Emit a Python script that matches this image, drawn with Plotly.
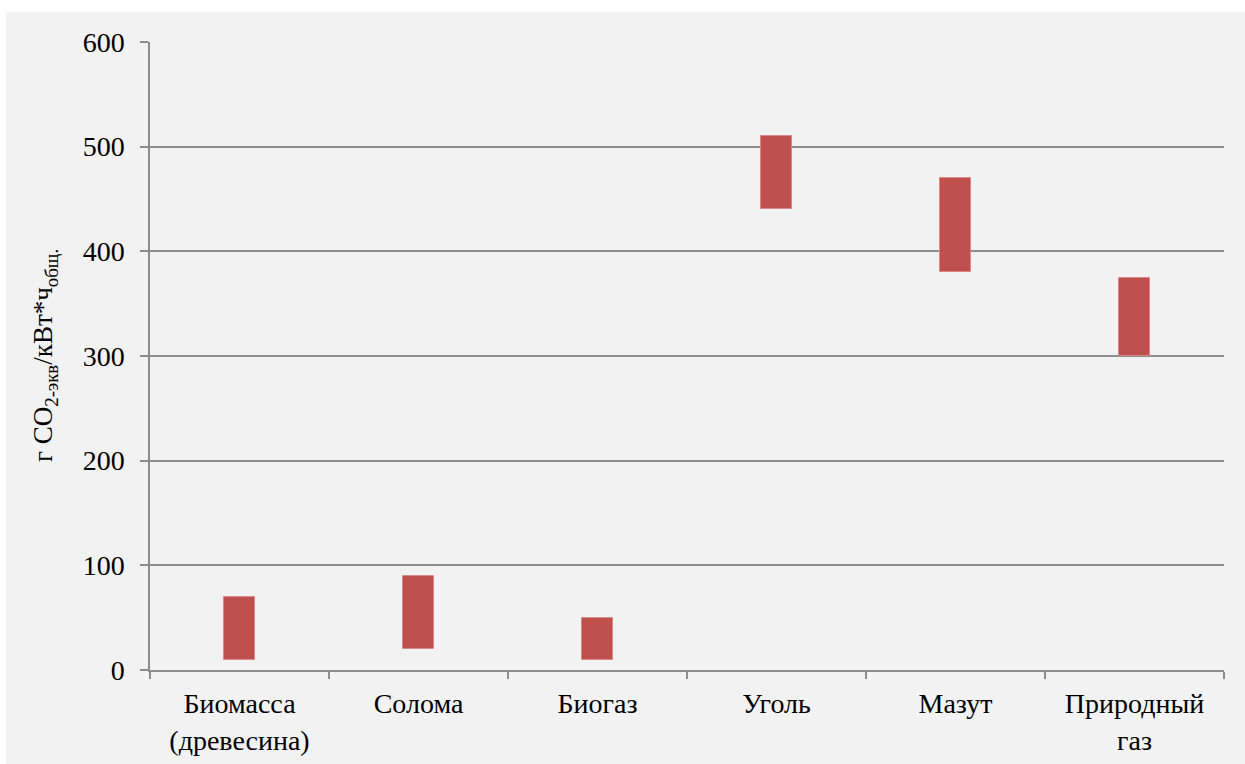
import plotly.graph_objects as go

categories = ["Биомасса<br>(древесина)", "Солома", "Биогаз", "Уголь", "Мазут", "Природный<br>газ"]
low_values = [10, 20, 10, 440, 380, 300]
high_values = [70, 90, 50, 510, 470, 375]
y_ticks = [0, 100, 200, 300, 400, 500, 600]

FONT = "Liberation Serif"
GRID = "#8c8c8c"
BG = "#f2f2f2"

W, H = 1245, 764
L, R, T, B = 150, 21, 42, 94
pw, ph = W - L - R, H - T - B

def px_to_paper_x(px):
    return (px - L) / pw

def px_to_paper_y(py):
    return (H - B - py) / ph

fig = go.Figure()
fig.add_trace(go.Bar(
    x=categories,
    y=[h - l for h, l in zip(high_values, low_values)],
    base=low_values,
    width=0.168,
    marker=dict(color="#c0504d", line=dict(color="#d98886", width=1)),
    showlegend=False,
))

fig.update_layout(
    width=W, height=H,
    margin=dict(l=L, r=R, t=T, b=B, autoexpand=False),
    paper_bgcolor=BG,
    plot_bgcolor=BG,
    font=dict(family=FONT, size=28, color="#000000"),
    bargap=0,
    xaxis=dict(
        type="category",
        showgrid=False,
        showline=True, linecolor=GRID, linewidth=1.5,
        ticks="outside", tickson="boundaries", ticklen=7,
        tickcolor=GRID, tickwidth=1.5,
        ticklabelstandoff=8,
        tickfont=dict(family=FONT, size=28, color="#000000"),
        range=[-0.5, 5.5],
        fixedrange=True,
    ),
    yaxis=dict(
        range=[0, 600],
        tickvals=y_ticks,
        ticktext=[str(v) for v in y_ticks],
        showgrid=True, gridcolor=GRID, gridwidth=1.5,
        showline=True, linecolor=GRID, linewidth=1.5,
        zeroline=False,
        ticks="outside", ticklen=8, tickcolor=GRID, tickwidth=1.5,
        ticklabelstandoff=10,
        tickfont=dict(family=FONT, size=28, color="#000000"),
        fixedrange=True,
    ),
    shapes=[
        dict(type="rect", xref="paper", yref="paper", layer="below",
             x0=-0.3, x1=1.2, y0=px_to_paper_y(12), y1=1.3,
             fillcolor="#ffffff", line=dict(width=0)),
        dict(type="rect", xref="paper", yref="paper", layer="below",
             x0=-0.3, x1=px_to_paper_x(6), y0=-0.3, y1=1.3,
             fillcolor="#ffffff", line=dict(width=0)),
    ],
    annotations=[
        dict(
            text="г CO<sub>2-экв</sub>/кВт*ч<sub>общ.</sub>",
            xref="paper", yref="paper",
            x=px_to_paper_x(45), y=px_to_paper_y(356),
            xanchor="center", yanchor="middle",
            textangle=-90, showarrow=False,
            font=dict(family=FONT, size=27, color="#000000"),
        )
    ],
)

fig.write_html("out.html")
